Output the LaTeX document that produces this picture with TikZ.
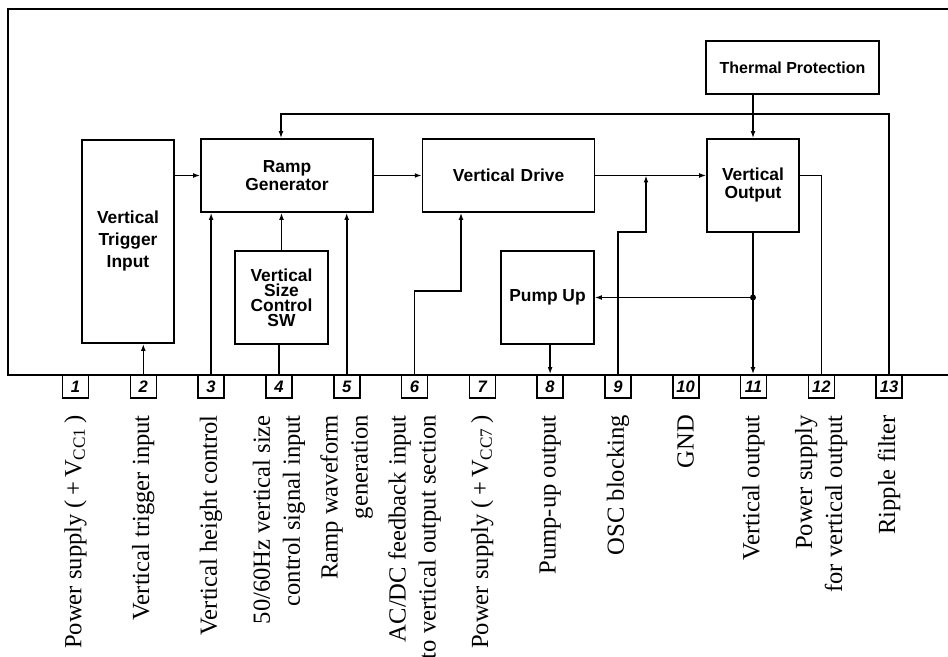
\documentclass[tikz,border=0pt]{standalone}
\usepackage{fontspec}
\setmainfont{Liberation Serif}
\setsansfont{Liberation Sans}
\usetikzlibrary{arrows.meta, positioning}

\begin{document}
\begin{tikzpicture}[
        x=0.5pt, y=-0.5pt,
        block/.style={
            rectangle,
            draw,
            line width=0.8pt,
            font=\sffamily\bfseries\fontsize{8.7}{7.5}\selectfont,
            align=center,
            inner sep=2pt
        },
        pinbox/.style={
            rectangle,
            draw,
            line width=0.8pt,
            minimum width=13pt,
            minimum height=11.5pt,
            inner sep=0pt,
            font=\sffamily\bfseries\itshape\fontsize{8.3}{9}\selectfont
        },
        pinlabel/.style={
            rotate=90,
            anchor=east,
            align=right,
            inner sep=0pt,
            font=\fontsize{12.3}{15}\selectfont
        },
        wire/.style={line width=0.8pt},
        arr/.style={wire, -{Latex[length=3.5pt, width=2.4pt]}}
    ]
    \useasboundingbox (0,0) rectangle (948,657);

    % IC outline
    \draw[line width=1pt] (948,9) -- (8,9) -- (8,375) -- (948,375);

    % Function blocks
    \node[block, minimum width=46pt, minimum height=101.5pt,
          font=\sffamily\bfseries\fontsize{8.7}{11}\selectfont] (vti) at (128,241.5) {Vertical\\Trigger\\Input};
    \node[block, minimum width=86pt, minimum height=36.5pt] (ramp) at (287,175.5) {Ramp\\Generator};
    \node[block, minimum width=86pt, minimum height=36.5pt, right=24pt of ramp] (drive) {Vertical\,\,Drive};
    \node[block, minimum width=46pt, minimum height=46.5pt,
          font=\sffamily\bfseries\fontsize{8.7}{9}\selectfont] (vout) at (753,185.5) {Vertical\\Output};
    \node[block, minimum width=46.5pt, minimum height=46.5pt] (vsc) at (281.5,297.5) {Vertical\\Size\\Control\\SW};
    \node[block, minimum width=46.5pt, minimum height=46.5pt] (pump) at (547.5,297.5) {Pump Up};
    \node[block, minimum width=86.5pt, minimum height=26.5pt,
          font=\sffamily\bfseries\fontsize{8}{9}\selectfont] (thermal) at (792.5,67.5) {Thermal Protection};

    % Pins
    \foreach \i in {1,...,13}
        \node[pinbox] (p\i) at ({75.5+67.8*(\i-1)},386.5) {\i};

    % Pin functions
    \foreach \i/\txt in {1/{Power supply (\,+\,V\textsubscript{CC1}\,)},
                         2/{Vertical trigger input},
                         3/{Vertical height control},
                         4/{50/60Hz vertical size\\control signal input},
                         5/{Ramp waveform\\generation},
                         6/{AC/DC feedback input\\to vertical output section},
                         7/{Power supply (\,+\,V\textsubscript{CC7}\,)},
                         8/{Pump-up output},
                         9/{OSC blocking},
                         10/{GND},
                         11/{Vertical output},
                         12/{Power supply\\for vertical output},
                         13/{Ripple filter}}
        \node[pinlabel] (l\i) at ([yshift=-8pt]p\i.south) {\txt};

    % Signal path
    \draw[arr] (vti.east |- ramp.west) -- (ramp.west);
    \draw[arr] (ramp.east) -- (drive.west);
    \draw[arr] (drive.east) -- (drive.east -| vout.west);
    \draw[arr] (vout.north |- thermal.south) -- (vout.north);

    % Pin connections
    \coordinate (fb) at (461,291);
    \coordinate (osc) at (646,232);
    \coordinate (ret) at (281,114);
    \coordinate (tap) at (vout.south |- pump.east);
    \draw[arr] (p2.north) -- (p2.north |- vti.south);
    \foreach \n in {p3, p5}
        \draw[arr] (\n.north) -- (\n.north |- ramp.south);
    \draw[wire] (p4.north) -- (p4.north |- vsc.south);
    \draw[arr] (vsc.north) -- (vsc.north |- ramp.south);
    \draw[arr] (p6.north) |- (fb) -- (fb |- drive.south);
    \draw[arr] (p8.north |- pump.south) -- (p8.north);
    \draw[arr] (p9.north) |- (osc) -- (osc |- drive.east);
    \draw[arr] (vout.south) -- (vout.south |- p11.north);
    \fill (tap) circle (1.5pt);
    \draw[arr] (tap) -- (pump.east);
    \draw[wire] (p12.north) |- (drive.east -| vout.east);
    \draw[arr] (p13.north) |- (ret) -- (ret |- ramp.north);

\end{tikzpicture}
\end{document}
